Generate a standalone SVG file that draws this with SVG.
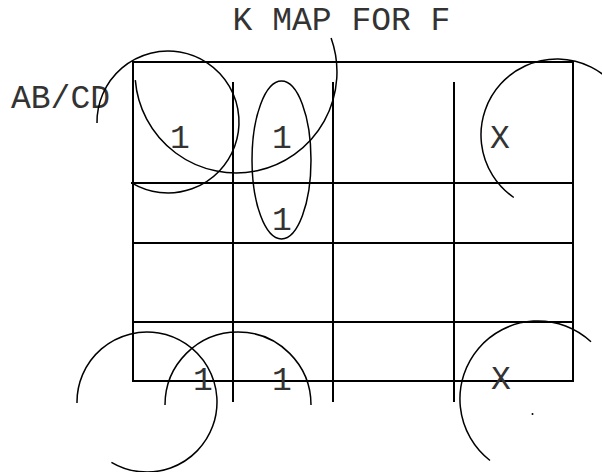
<svg xmlns="http://www.w3.org/2000/svg" width="602" height="472" viewBox="0 0 602 472">
<style>
.t{font-family:"Liberation Mono","DejaVu Sans Mono",monospace;font-size:33px;fill:#333}
.m{text-anchor:middle}
.g{stroke:#000;stroke-width:2;fill:none}
.c{stroke:#000;stroke-width:1.5;fill:none}
</style>
<rect width="602" height="472" fill="#fff"/>
<g id="title"><text class="t m" x="341.5" y="30">K MAP FOR F</text></g>
<g id="label"><text class="t" x="11" y="108">AB/CD</text></g>
<g id="grid">
<rect class="g" x="133" y="62" width="440" height="319"/>
<line class="g" x1="131" y1="183" x2="573" y2="183"/>
<line class="g" x1="133" y1="243" x2="573" y2="243"/>
<line class="g" x1="133" y1="322" x2="573" y2="322"/>
<line class="g" x1="233" y1="82" x2="233" y2="402"/>
<line class="g" x1="333" y1="82" x2="333" y2="402"/>
<line class="g" x1="454" y1="82" x2="454" y2="402"/>
</g>
<g id="cells">
<text class="t m" x="180" y="148">1</text>
<text class="t m" x="282" y="148">1</text>
<text class="t m" x="500" y="148">X</text>
<text class="t m" x="282" y="230">1</text>
<text class="t m" x="203" y="390">1</text>
<text class="t m" x="282" y="390">1</text>
<text class="t m" x="501" y="389">X</text>
</g>
<g id="loops">
<path class="c" d="M97,123 A71,71 0 1 1 132,183.2"/>
<path class="c" d="M331.1,38 A101,101 0 1 1 135.3,80.1"/>
<ellipse class="c" cx="281.5" cy="160" rx="29.5" ry="79"/>
<path class="c" d="M615.2,86.1 A76,76 0 1 0 513.8,197.5"/>
<path class="c" d="M77,403 A70,70 0 1 1 111.4,462.3"/>
<path class="c" d="M165,405 A73,73 0 0 1 311,405"/>
<path class="c" d="M591,341.8 A78,78 0 1 0 490,460.5"/>
<circle cx="532.5" cy="414" r="1" fill="#000"/>
</g>
</svg>
